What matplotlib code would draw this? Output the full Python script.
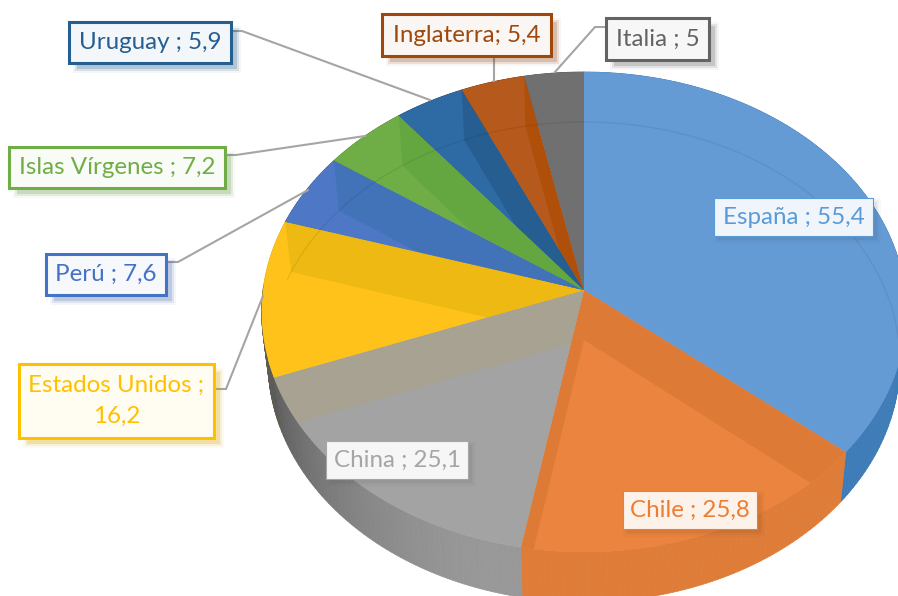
import numpy as np
import matplotlib
matplotlib.use("Agg")
import matplotlib.pyplot as plt
from matplotlib.patches import Polygon, Rectangle

# data
countries = ["España", "Chile", "China", "Estados Unidos", "Perú",
             "Islas Vírgenes", "Uruguay", "Inglaterra", "Italia"]
values = [55.4, 25.8, 25.1, 16.2, 7.6, 7.2, 5.9, 5.4, 5]

# colours per slice
line_colors = ["#5B9BD5", "#ED7D31", "#A5A5A5", "#FFC000", "#4472C4",
               "#70AD47", "#255E91", "#9E480E", "#636363"]
face_colors = ["#659BD5", "#EB843F", "#A3A3A3", "#FEC21A", "#4E78C6",
               "#6FAD47", "#2E6BA4", "#B5591D", "#707070"]
wall_colors = ["#5F95CE", "#DD7A36", "#A8A292", "#EDB912", "#4272B8",
               "#64A640", "#265E91", "#B04F0A", "#6A6A6A"]
front_colors = ["#3E7CB8", "#DE7C38", "#989898", "#E2AE12", "#35598F",
                "#55853A", "#1C4870", "#7A380B", "#4C4C4C"]

# pie geometry in pixels
CX, CY = 584, 290
RX, RY = 321, 238
DEPTH = 50
TILT = 0.0916
BOTTOM_SHRINK = 0.98

# label boxes: left, top, right, bottom
boxes = [(714, 198, 873, 236), (623, 491, 757, 529), (326, 441, 468, 479),
         (19, 364, 214, 438), (46, 254, 166, 295), (9, 147, 225, 188),
         (69, 22, 231, 63), (382, 14, 551, 56), (606, 18, 709, 60)]
leaders = {
    3: [(214, 389), (226, 389), (263, 296)],
    4: [(166, 262), (178, 262), (308, 190)],
    5: [(225, 155), (236, 155), (365, 136)],
    6: [(231, 31), (242, 31), (430, 100)],
    7: [(494, 56), (494, 81)],
    8: [(606, 27), (595, 27), (555, 72)],
}


def rim(t, lower=False):
    # t is clockwise from 12 o'clock, degrees; perspective on the circle
    a = np.radians(t)
    u, v = np.sin(a), -np.cos(a)
    d = 1 - TILT * v
    x, y = RX * u / d, RY * v / d
    if lower:
        return np.column_stack([CX + BOTTOM_SHRINK * x, CY + DEPTH + y])
    return np.column_stack([CX + x, CY + y])


def darken(color, amount):
    rgb = np.array(matplotlib.colors.to_rgb(color))
    return tuple(rgb * (1 - amount))


def tint(color, amount):
    rgb = np.array(matplotlib.colors.to_rgb(color))
    return tuple(rgb * amount + (1 - amount))


fig = plt.figure(figsize=(8.98, 5.96), dpi=100)
ax = fig.add_axes([0, 0, 1, 1])
ax.set_xlim(0, 898)
ax.set_ylim(596, 0)
ax.axis("off")

edges = np.concatenate([[0], np.cumsum(values)]) / sum(values) * 360
top_apex = (CX, CY)
low_apex = (CX, CY + DEPTH)

# outer wall first, the top faces cover the back of it
# China goes last and runs on past its edge, the wall there is all dark grey
for i in sorted(range(len(values)), key=lambda k: countries[k] == "China"):
    end = edges[i + 1] + (22 if countries[i] == "China" else 0)
    ts = np.linspace(edges[i], end, max(int(end - edges[i]), 2) + 1)
    for t0, t1 in zip(ts[:-1], ts[1:]):
        shade = 0
        if countries[i] == "China":
            shade = np.clip((t0 - 195) / 55, 0, 1) ** 1.5 * 0.4
        col = darken(front_colors[i], shade)
        pts = np.vstack([rim(np.array([t0, t1])), rim(np.array([t1, t0]), True)])
        ax.add_patch(Polygon(pts, closed=True, fc=col, ec=col, lw=0.5, zorder=1))

# top faces, with inner walls and floor seen through them
far_rim = rim(np.linspace(-75, 125, 200), True)
for i in range(len(values)):
    ts = np.linspace(edges[i], edges[i + 1], 120)
    top = Polygon(np.vstack([top_apex, rim(ts)]), closed=True,
                  fc=face_colors[i], ec="none", zorder=2)
    ax.add_patch(top)

    # floor of the same slice, then the radial walls that fall inside the face
    floor = Polygon(np.vstack([low_apex, rim(ts, True)]), closed=True,
                    fc=face_colors[i], ec="none", zorder=3)
    ax.add_patch(floor)
    floor.set_clip_path(top)

    for t in edges:
        t_arr = np.array([t])
        quad = Polygon(np.vstack([top_apex, low_apex, rim(t_arr, True), rim(t_arr)]),
                       closed=True, fc=wall_colors[i], ec="none", zorder=4)
        ax.add_patch(quad)
        quad.set_clip_path(top)

    # faint line of the far rim
    arc, = ax.plot(far_rim[:, 0], far_rim[:, 1], color="black", alpha=0.07, lw=1, zorder=5)
    arc.set_clip_path(top)

# leader lines
for i, pts in leaders.items():
    xs, ys = zip(*pts)
    ax.plot(xs, ys, color="#A5A5A5", lw=1.5, zorder=6, solid_joinstyle="miter")

# labels
for i, (name, val) in enumerate(zip(countries, values)):
    x0, y0, x1, y1 = boxes[i]
    col = line_colors[i]
    on_pie = i < 3
    off = 4 if on_pie else 7
    # soft shadow made of a few stacked rectangles
    stack = [(4, 0.03), (2, 0.05), (0, 0.08)] if on_pie else [(3, 0.05), (1, 0.12), (-1, 0.2)]
    for grow, alpha in stack:
        shadow_col = darken(col, 0.5) if on_pie else darken(col, 0.15)
        ax.add_patch(Rectangle((x0 + off - grow, y0 + off - grow),
                               x1 - x0 + 2 * grow, y1 - y0 + 2 * grow,
                               fc=shadow_col, ec="none", alpha=alpha, zorder=7))
    ax.add_patch(Rectangle((x0, y0), x1 - x0, y1 - y0, fc=tint(col, 0.1 if on_pie else 0.05),
                           ec=col, lw=0.8 if on_pie else 2.2, zorder=8))
    sep = "; " if name == "Inglaterra" else " ; "
    num = f"{val}".replace(".", ",")
    text = f"{name}{sep}{num}"
    if name == "Estados Unidos":
        text = f"{name}{sep.rstrip()}\n{num}"
    ax.text((x0 + x1) / 2, (y0 + y1) / 2, text, color=col, family="Lato", fontsize=17.4,
            ha="center", va="center", linespacing=1.6, zorder=9)

fig.savefig("out.png", dpi=100, facecolor="white")
